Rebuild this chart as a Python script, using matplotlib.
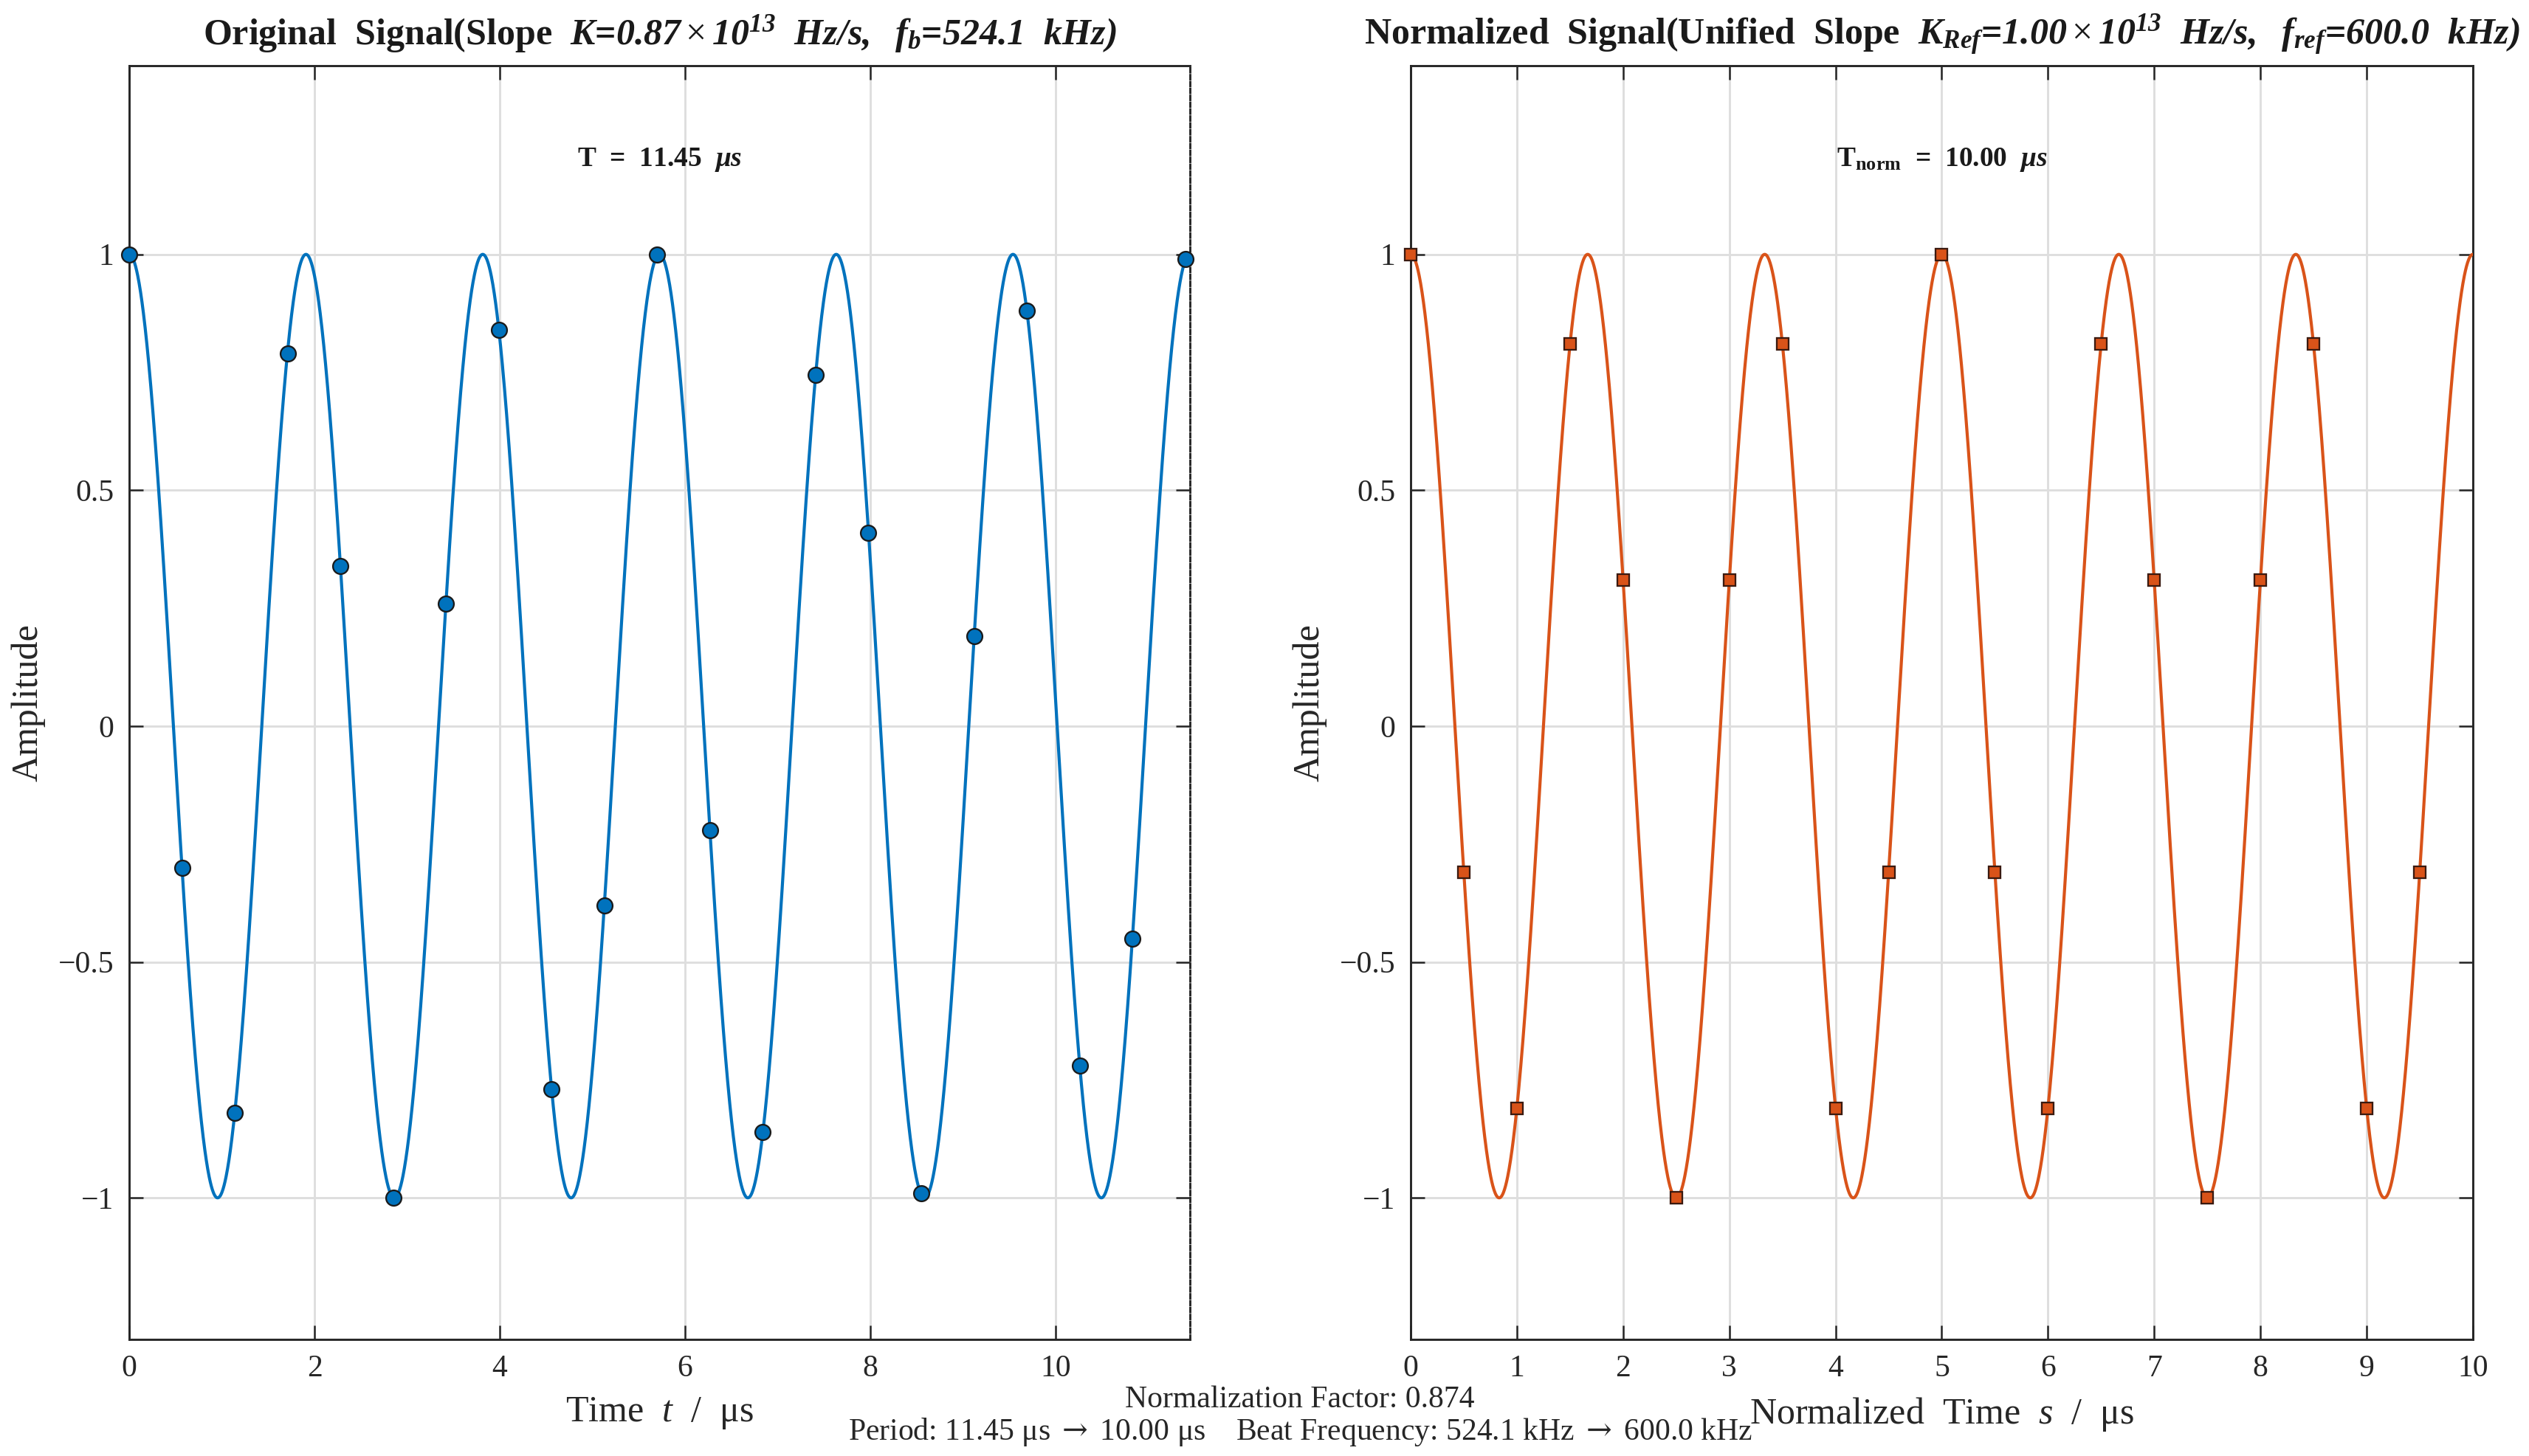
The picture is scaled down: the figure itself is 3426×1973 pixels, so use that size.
import numpy as np
import matplotlib
matplotlib.use("Agg")
import matplotlib.pyplot as plt
from matplotlib.ticker import FuncFormatter, FixedLocator

plt.rcParams['font.family'] = ['Liberation Serif', 'DejaVu Serif']
plt.rcParams['mathtext.fontset'] = 'custom'
plt.rcParams['mathtext.rm'] = 'Liberation Serif'
plt.rcParams['mathtext.it'] = 'Liberation Serif:italic'
plt.rcParams['mathtext.bf'] = 'Liberation Serif:bold'
plt.rcParams['mathtext.bfit'] = 'Liberation Serif:bold:italic'
plt.rcParams['mathtext.sf'] = 'DejaVu Serif'
plt.rcParams['axes.unicode_minus'] = True

# ---------------- data ----------------
f_orig_MHz = 0.5241      # beat frequency of original signal (MHz)
T_orig_us = 11.45        # original period window (us)
f_ref_MHz = 0.6000       # reference beat frequency (MHz)
T_norm_us = 10.00        # normalized window (us)

t_samples = [0.00, 0.57, 1.14, 1.71, 2.28, 2.85, 3.42, 3.99, 4.56, 5.13, 5.70,
             6.27, 6.84, 7.41, 7.98, 8.55, 9.12, 9.69, 10.26, 10.83, 11.40]
y_samples = [1.00, -0.30, -0.82, 0.79, 0.34, -1.00, 0.26, 0.84, -0.77, -0.38, 1.00,
             -0.22, -0.86, 0.745, 0.41, -0.99, 0.19, 0.88, -0.72, -0.45, 0.99]

s_samples = [0.0, 0.5, 1.0, 1.5, 2.0, 2.5, 3.0, 3.5, 4.0, 4.5,
             5.0, 5.5, 6.0, 6.5, 7.0, 7.5, 8.0, 8.5, 9.0, 9.5]
ys_samples = [1.00, -0.31, -0.81, 0.81, 0.31, -1.00, 0.31, 0.81, -0.81, -0.31,
              1.00, -0.31, -0.81, 0.81, 0.31, -1.00, 0.31, 0.81, -0.81, -0.31]

left_xticks = [0, 2, 4, 6, 8, 10]
right_xticks = [0, 1, 2, 3, 4, 5, 6, 7, 8, 9, 10]
yticks = [-1, -0.5, 0, 0.5, 1]

# continuous curves from the stated beat frequencies
t_line = np.linspace(0, T_orig_us, 3000)
y_line = np.cos(2 * np.pi * f_orig_MHz * t_line)
s_line = np.linspace(0, T_norm_us, 3000)
ys_line = np.cos(2 * np.pi * f_ref_MHz * s_line)

BLUE = '#0072BD'
ORANGE = '#D95319'
AXC = '#262626'

fig = plt.figure(figsize=(3426 / 300, 1973 / 300), dpi=300)
ax1 = fig.add_axes([0.0511, 0.0801, 0.4194, 0.8748])
ax2 = fig.add_axes([0.5578, 0.0801, 0.4200, 0.8748])

def yfmt(v, pos):
    s = '%g' % v
    return s.replace('-', '\u2212')

for ax in (ax1, ax2):
    ax.set_ylim(-1.3, 1.4)
    ax.yaxis.set_major_locator(FixedLocator(yticks))
    ax.yaxis.set_major_formatter(FuncFormatter(yfmt))
    ax.grid(True, color='#dedede', linewidth=0.7)
    ax.set_axisbelow(True)
    ax.tick_params(direction='in', top=True, right=True, length=4.5, width=0.6,
                   color=AXC, labelsize=10, labelcolor=AXC, pad=5)
    for sp in ax.spines.values():
        sp.set_linewidth(0.7)
        sp.set_color(AXC)
    ax.set_ylabel('Amplitude', fontsize=12, color=AXC, labelpad=4)

# left
ax1.plot(t_line, y_line, color=BLUE, linewidth=1.0, zorder=3)
ax1.plot(t_samples, y_samples, linestyle='none', marker='o', markersize=5.0,
         markerfacecolor=BLUE, markeredgecolor='#1a1a1a', markeredgewidth=0.55,
         zorder=4, clip_on=False)
ax1.set_xlim(0, T_orig_us)
ax1.xaxis.set_major_locator(FixedLocator(left_xticks))
ax1.spines['right'].set_linestyle((0, (2.0, 1.2)))
ax1.set_xlabel(r'Time  $t$  /  μs', fontsize=12, color=AXC, labelpad=4)
ax1.set_title(r'Original  Signal(Slope  $\mathbfit{K}$=$\mathbfit{0.87}\times\mathbfit{10^{13}}$  '
              r'$\mathbfit{Hz/s,}$  $\mathbfit{f_b}$=$\mathbfit{524.1}$  $\mathbfit{kHz)}$',
              fontsize=12, fontweight='bold', color='#1a1a1a', pad=7)
ax1.text(T_orig_us / 2, 1.2, r'T  =  11.45  $\mathbfit{μs}$', ha='center', va='center',
         fontsize=9, fontweight='bold', color='#1a1a1a')

# right
ax2.plot(s_line, ys_line, color=ORANGE, linewidth=1.0, zorder=3)
ax2.plot(s_samples, ys_samples, linestyle='none', marker='s', markersize=4.0,
         markerfacecolor=ORANGE, markeredgecolor='#3a1a10', markeredgewidth=0.55,
         zorder=4, clip_on=False)
ax2.set_xlim(0, T_norm_us)
ax2.xaxis.set_major_locator(FixedLocator(right_xticks))
ax2.set_xlabel(r'Normalized  Time  $s$  /  μs', fontsize=12, color=AXC, labelpad=4)
ax2.set_title(r'Normalized  Signal(Unified  Slope  $\mathbfit{K_{Ref}}$=$\mathbfit{1.00}\times\mathbfit{10^{13}}$  '
              r'$\mathbfit{Hz/s,}$  $\mathbfit{f_{ref}}$=$\mathbfit{600.0}$  $\mathbfit{kHz)}$',
              fontsize=12, fontweight='bold', color='#1a1a1a', pad=7)
ax2.text(T_norm_us / 2, 1.2, r'$\mathbf{T_{norm}}$  =  10.00  $\mathbfit{μs}$', ha='center', va='center',
         fontsize=9, fontweight='bold', color='#1a1a1a')

fig.text(0.514, 0.0385, 'Normalization Factor: 0.874', ha='center', va='center',
         fontsize=10, color=AXC)
fig.text(0.514, 0.0167, r'Period: 11.45 μs $\mathsf{\rightarrow}$ 10.00 μs    Beat Frequency: 524.1 kHz $\mathsf{\rightarrow}$ 600.0 kHz',
         ha='center', va='center', fontsize=10, color=AXC)

fig.savefig('out.png', dpi=300)
